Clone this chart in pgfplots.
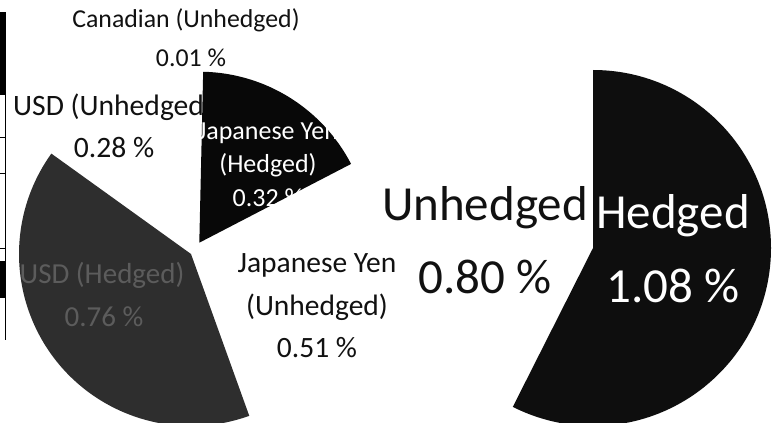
\documentclass[border=0pt]{standalone}
\usepackage{pgfplots}
\pgfplotsset{compat=1.18}
\usepackage{fontspec}
\setmainfont{Carlito}
\definecolor{wedgeblack}{HTML}{080808}
\definecolor{wedgegray}{HTML}{2E2E2E}
\definecolor{hedgeblack}{HTML}{0E0E0E}
\definecolor{labgray}{HTML}{5C5C5C}
\definecolor{txt}{HTML}{111111}

% ---- data (percent) ----
% left pie, clockwise from top
\def\JPYH{0.32}  % Japanese Yen (Hedged)
\def\JPYU{0.51}  % Japanese Yen (Unhedged)
\def\USDH{0.76}  % USD (Hedged)
\def\USDU{0.28}  % USD (Unhedged)
\def\CADU{0.01}  % Canadian (Unhedged)
% right pie
\def\HED{1.08}   % Hedged
\def\UNH{0.80}   % Unhedged

\pgfmathsetmacro\LTOT{\JPYH+\JPYU+\USDH+\USDU+\CADU}
\pgfmathsetmacro\RTOT{\HED+\UNH}
\pgfmathsetmacro\aJPYH{\JPYH/\LTOT*360}
\pgfmathsetmacro\aJPYU{\JPYU/\LTOT*360}
\pgfmathsetmacro\aUSDH{\USDH/\LTOT*360}
\pgfmathsetmacro\aUSDU{\USDU/\LTOT*360}
\pgfmathsetmacro\aCADU{\CADU/\LTOT*360}
\pgfmathsetmacro\aHED{\HED/\RTOT*360}
\pgfmathsetmacro\aUNH{\UNH/\RTOT*360}
\def\Lstart{88.7}
\pgfmathsetmacro\sJPYU{\Lstart-\aJPYH}
\pgfmathsetmacro\sUSDH{\sJPYU-\aJPYU}
\pgfmathsetmacro\sUSDU{\sUSDH-\aUSDH}
\pgfmathsetmacro\sCADU{\sUSDU-\aUSDU}
\pgfmathsetmacro\sUNH{90-\aHED}

% cx cy r start span color  (cx,cy in picture px, y downward)
\newcommand\slice[6]{%
  \pgfmathsetmacro\sa{#4}\pgfmathsetmacro\ea{#4-(#5)}%
  \pgfmathsetmacro\sx{#1+#3*cos(\sa)}\pgfmathsetmacro\sy{#2-#3*sin(\sa)}%
  \edef\doslice{\noexpand\fill[#6] (axis cs:#1,#2) -- (axis cs:\sx,\sy)
    arc[start angle=\sa, end angle=\ea, radius=#3bp] -- cycle;}%
  \doslice}

\begin{document}
\begin{tikzpicture}
\useasboundingbox (0,0) rectangle (779bp,423bp);
\begin{axis}[
  at={(0,0)}, anchor=south west,
  width=779bp, height=423bp, scale only axis,
  xmin=0, xmax=779, ymin=0, ymax=423, y dir=reverse,
  hide axis, clip=true,
]
\tikzset{lab/.style={anchor=base, inner sep=0pt, text=txt}}
% white (invisible) slices
\slice{195}{249}{171}{\sJPYU}{\aJPYU}{white}
\slice{195}{249}{171}{\sUSDU}{\aUSDU}{white}
\slice{195}{249}{171}{\sCADU}{\aCADU}{white}
\slice{593}{248}{178}{\sUNH}{\aUNH}{white}

% label partly hidden under the Yen (Hedged) slice
\node[lab, anchor=base west, font=\fontsize{29.6bp}{34bp}\selectfont] at (axis cs:13,115) {USD (Unhedged)};

% visible slices
\slice{199.3}{242.7}{171}{\Lstart}{\aJPYH}{wedgeblack}
\slice{191}{254}{172}{\sUSDH}{\aUSDH}{wedgegray}
\slice{593}{248}{178}{90}{\aHED}{hedgeblack}

% scan remnants at the left edge
\fill[black] (axis cs:0,12) rectangle (axis cs:6,95);
\fill[black] (axis cs:0,261) rectangle (axis cs:6,298);
\draw[black, line width=1.2bp] (axis cs:5.5,95) -- (axis cs:5.5,261);
\draw[black, line width=1.2bp] (axis cs:5.5,298) -- (axis cs:5.5,340);
\draw[black, line width=0.8bp] (axis cs:0,137) -- (axis cs:5,137);
\draw[black, line width=0.8bp] (axis cs:0,173) -- (axis cs:5,173);
\draw[black, line width=0.8bp] (axis cs:0,248) -- (axis cs:5,248);

% labels
\node[lab, font=\fontsize{25.8bp}{30bp}\selectfont] at (axis cs:186,28) {Canadian (Unhedged)};
\node[lab, font=\fontsize{25.8bp}{30bp}\selectfont] at (axis cs:191,67) {0.01 \%};

\node[lab, font=\fontsize{29.6bp}{34bp}\selectfont] at (axis cs:114,157) {0.28 \%};

\node[lab, text=white, font=\fontsize{26bp}{32bp}\selectfont] at (axis cs:268,139) {Japanese Yen};
\node[lab, text=white, font=\fontsize{26bp}{32bp}\selectfont] at (axis cs:268,172) {(Hedged)};
\node[lab, text=white, font=\fontsize{26bp}{32bp}\selectfont] at (axis cs:268,206) {0.32 \%};

\node[lab, font=\fontsize{29.5bp}{34bp}\selectfont] at (axis cs:317,272) {Japanese Yen};
\node[lab, font=\fontsize{29.5bp}{34bp}\selectfont] at (axis cs:317,315) {(Unhedged)};
\node[lab, font=\fontsize{29.5bp}{34bp}\selectfont] at (axis cs:317,357) {0.51 \%};

\node[lab, text=labgray, font=\fontsize{29bp}{34bp}\selectfont] at (axis cs:102,283) {USD (Hedged)};
\node[lab, text=labgray, font=\fontsize{29bp}{34bp}\selectfont] at (axis cs:104,326) {0.76 \%};

\node[lab, font=\fontsize{49bp}{56bp}\selectfont] at (axis cs:485,220) {Unhedged};
\node[lab, font=\fontsize{49bp}{56bp}\selectfont] at (axis cs:485,293) {0.80 \%};

\node[lab, text=white, font=\fontsize{49bp}{56bp}\selectfont] at (axis cs:673,228) {Hedged};
\node[lab, text=white, font=\fontsize{49bp}{56bp}\selectfont] at (axis cs:673,302) {1.08 \%};
\end{axis}
\end{tikzpicture}
\end{document}
